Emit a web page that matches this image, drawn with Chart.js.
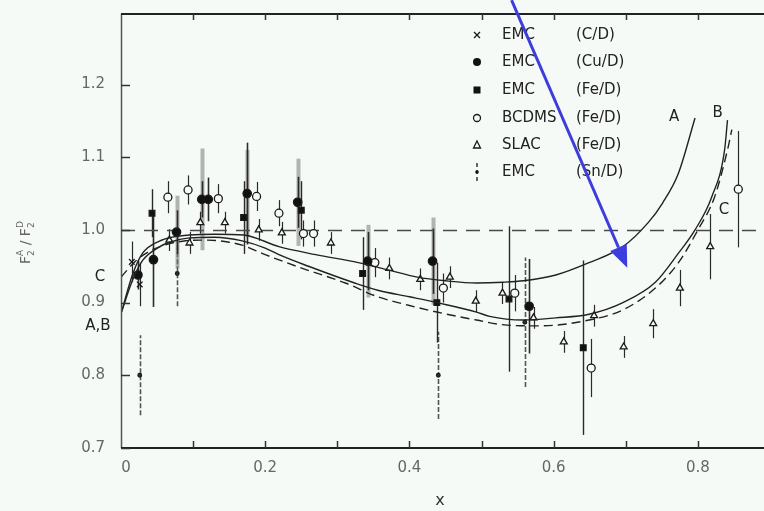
<!DOCTYPE html>
<html>
<head>
<meta charset="utf-8">
<script src="https://cdn.jsdelivr.net/npm/chart.js@4.4.0/dist/chart.umd.min.js"></script>
<style>
  html, body { margin: 0; padding: 0; background: #f6faf7; }
  #wrap { width: 764px; height: 511px; }
</style>
</head>
<body>
<div id="wrap"><canvas id="myChart" width="764" height="511"></canvas></div>
<script>
var bgColor = "#f6faf7";

// axis ticks
var xTickVals = [0, 0.1, 0.2, 0.3, 0.4, 0.5, 0.6, 0.7, 0.8];
var xTickLabels = ["0", "", "0.2", "", "0.4", "", "0.6", "", "0.8"];
var yTickVals = [0.7, 0.8, 0.9, 1.0, 1.1, 1.2];
var yTickLabels = ["0.7", "0.8", "0.9", "1.0", "1.1", "1.2"];

// model curves A, B (solid) and C (dashed)
var curveAX = [0, 0.0165, 0.03, 0.054, 0.071, 0.095, 0.13, 0.17, 0.219, 0.27, 0.329, 0.37, 0.411, 0.45, 0.493, 0.53, 0.558, 0.603, 0.649, 0.696, 0.731, 0.751, 0.773, 0.796];
var curveAY = [0.885, 0.94, 0.968, 0.985, 0.990, 0.993, 0.994, 0.993, 0.977, 0.966, 0.955, 0.945, 0.935, 0.930, 0.927, 0.928, 0.930, 0.938, 0.955, 0.977, 1.010, 1.037, 1.078, 1.154];
var curveBX = [0, 0.0165, 0.03, 0.054, 0.071, 0.095, 0.13, 0.168, 0.2, 0.219, 0.26, 0.324, 0.356, 0.4, 0.438, 0.493, 0.511, 0.558, 0.603, 0.649, 0.696, 0.741, 0.773, 0.796, 0.819, 0.837, 0.841];
var curveBY = [0.885, 0.932, 0.958, 0.977, 0.984, 0.989, 0.990, 0.985, 0.975, 0.966, 0.950, 0.927, 0.917, 0.908, 0.900, 0.887, 0.881, 0.876, 0.879, 0.884, 0.900, 0.928, 0.968, 1.0, 1.045, 1.110, 1.151];
var curveCX = [0, 0.02, 0.04, 0.06, 0.09, 0.12, 0.15, 0.168, 0.2, 0.246, 0.311, 0.356, 0.4, 0.438, 0.493, 0.535, 0.58, 0.649, 0.696, 0.741, 0.773, 0.80, 0.823, 0.841, 0.847];
var curveCY = [0.935, 0.957, 0.971, 0.979, 0.985, 0.986, 0.983, 0.979, 0.966, 0.949, 0.927, 0.908, 0.896, 0.887, 0.876, 0.869, 0.868, 0.876, 0.890, 0.920, 0.955, 1.0, 1.045, 1.110, 1.138];

// EMC (C/D)
var emcCX = [0.015, 0.026];
var emcCY = [0.956, 0.925];
var emcCErr = [0.028, 0.03];
// EMC (Cu/D)
var emcCuX = [0.0235, 0.045, 0.077, 0.112, 0.121, 0.175, 0.245, 0.342, 0.432, 0.566];
var emcCuY = [0.938, 0.959, 0.997, 1.042, 1.042, 1.050, 1.038, 0.957, 0.957, 0.895];
var emcCuErr = [0.02, 0.065, 0.03, 0.025, 0.03, 0.07, 0.035, 0.04, 0.045, 0.065];
var emcCuSys = [0, 0, 0.05, 0.07, 0, 0.06, 0.06, 0.05, 0.06, 0];
// EMC (Fe/D)
var emcFeX = [0.043, 0.17, 0.25, 0.335, 0.438, 0.538, 0.641];
var emcFeY = [1.023, 1.017, 1.027, 0.940, 0.900, 0.905, 0.838];
var emcFeErr = [0.033, 0.05, 0.04, 0.05, 0.055, 0.1, 0.12];
// BCDMS (Fe/D)
var bcdmsX = [0.065, 0.093, 0.135, 0.188, 0.219, 0.253, 0.267, 0.352, 0.447, 0.546, 0.652, 0.856];
var bcdmsY = [1.045, 1.055, 1.043, 1.046, 1.023, 0.995, 0.995, 0.955, 0.920, 0.913, 0.810, 1.056];
var bcdmsErr = [0.022, 0.02, 0.02, 0.02, 0.018, 0.018, 0.018, 0.02, 0.02, 0.025, 0.04, 0.08];
// SLAC (Fe/D)
var slacX = [0.067, 0.095, 0.11, 0.144, 0.191, 0.223, 0.291, 0.372, 0.415, 0.456, 0.492, 0.529, 0.572, 0.614, 0.656, 0.697, 0.738, 0.775, 0.817];
var slacY = [0.986, 0.982, 1.010, 1.010, 1.000, 0.996, 0.982, 0.947, 0.932, 0.935, 0.902, 0.913, 0.879, 0.846, 0.882, 0.839, 0.871, 0.920, 0.977];
var slacErr = [0.015, 0.015, 0.015, 0.015, 0.015, 0.015, 0.015, 0.015, 0.015, 0.015, 0.015, 0.015, 0.015, 0.015, 0.015, 0.015, 0.02, 0.025, 0.045];
// EMC (Sn/D)
var emcSnX = [0.026, 0.078, 0.44, 0.56];
var emcSnY = [0.800, 0.940, 0.800, 0.873];
var emcSnErr = [0.055, 0.045, 0.06, 0.089];

var legendSymbols = ["crossRot", "circleFill", "rectFill", "circleOpen", "triangleOpen", "dotted"];
var legendNames = ["EMC", "EMC", "EMC", "BCDMS", "SLAC", "EMC"];
var legendSources = ["(C/D)", "(Cu/D)", "(Fe/D)", "(Fe/D)", "(Fe/D)", "(Sn/D)"];

function toPoints(xs, ys) {
  var out = [];
  for (var i = 0; i < xs.length; i++) {
    out.push({ x: xs[i], y: ys[i] });
  }
  return out;
}

function curveSet(label, xs, ys, dash) {
  return {
    label: label,
    type: "line",
    data: toPoints(xs, ys),
    showLine: true,
    borderColor: "#222",
    borderWidth: 1.4,
    borderDash: dash,
    pointRadius: 0,
    cubicInterpolationMode: "monotone",
    fill: false,
  };
}

function pointSet(label, xs, ys, errs, style, radius, fillColor, extra) {
  var ds = {
    label: label,
    type: "scatter",
    data: toPoints(xs, ys),
    errs: errs,
    pointStyle: style,
    pointRadius: radius,
    pointBackgroundColor: fillColor,
    pointBorderColor: "#1a1a1a",
    pointBorderWidth: 1.3,
    showLine: false,
  };
  for (var k in extra) ds[k] = extra[k];
  return ds;
}

function strokeBars(c, ds, errs, xs, ys) {
  ds.data.forEach(function (p, i) {
    var e = errs[i];
    if (!e) return;
    var px = Math.round(xs.getPixelForValue(p.x)) + 0.5;
    c.beginPath();
    c.moveTo(px, ys.getPixelForValue(p.y - e));
    c.lineTo(px, ys.getPixelForValue(p.y + e));
    c.stroke();
  });
}

var errorBars = {
  id: "errorBars",
  beforeDatasetsDraw: function (chart) {
    var c = chart.ctx;
    var xs = chart.scales.x;
    var ys = chart.scales.y;
    chart.data.datasets.forEach(function (ds) {
      if (ds.sys) {
        c.save();
        c.strokeStyle = "rgba(120,120,120,0.55)";
        c.lineWidth = 4;
        strokeBars(c, ds, ds.sys, xs, ys);
        c.restore();
      }
      if (!ds.errs) return;
      c.save();
      c.strokeStyle = ds.errColor || "#2a2a2a";
      c.lineWidth = ds.errWidth || 1.2;
      c.setLineDash(ds.errDash || []);
      strokeBars(c, ds, ds.errs, xs, ys);
      c.restore();
    });
  },
};

function drawSymbol(c, kind, x, y) {
  c.save();
  c.strokeStyle = "#1a1a1a";
  c.fillStyle = "#111";
  c.lineWidth = 1.3;
  c.beginPath();
  if (kind == "crossRot") {
    c.moveTo(x - 3, y - 3); c.lineTo(x + 3, y + 3);
    c.moveTo(x + 3, y - 3); c.lineTo(x - 3, y + 3);
    c.stroke();
  } else if (kind == "circleFill") {
    c.arc(x, y, 4, 0, Math.PI * 2); c.fill();
  } else if (kind == "rectFill") {
    c.fillRect(x - 3.5, y - 3.5, 7, 7);
  } else if (kind == "circleOpen") {
    c.arc(x, y, 3.5, 0, Math.PI * 2); c.stroke();
  } else if (kind == "triangleOpen") {
    c.moveTo(x, y - 4); c.lineTo(x + 3.5, y + 3); c.lineTo(x - 3.5, y + 3); c.closePath(); c.stroke();
  } else {
    c.moveTo(x, y - 9); c.lineTo(x, y - 5);
    c.moveTo(x, y - 2); c.lineTo(x, y + 2);
    c.moveTo(x, y + 5); c.lineTo(x, y + 9);
    c.stroke();
    c.beginPath(); c.arc(x, y, 1.8, 0, Math.PI * 2); c.fill();
  }
  c.restore();
}

var framePlugin = {
  id: "frame",
  beforeDraw: function (chart) {
    var c = chart.ctx;
    c.save();
    c.fillStyle = bgColor;
    c.fillRect(0, 0, chart.width, chart.height);
    c.restore();
  },
  beforeDatasetsDraw: function (chart) {
    var c = chart.ctx, a = chart.chartArea, ys = chart.scales.y;
    var y1 = Math.round(ys.getPixelForValue(1.0)) + 0.5;
    c.save();
    c.strokeStyle = "#4a4a4a";
    c.lineWidth = 1.6;
    c.setLineDash([14, 9]);
    c.beginPath();
    c.moveTo(a.left, y1);
    c.lineTo(chart.width, y1);
    c.stroke();
    c.restore();
  },
  afterDraw: function (chart) {
    var c = chart.ctx, a = chart.chartArea;
    var xs = chart.scales.x, ys = chart.scales.y;
    c.save();
    // frame
    c.strokeStyle = "#555";
    c.lineWidth = 1.5;
    c.beginPath();
    c.moveTo(a.left + 0.5, a.top);
    c.lineTo(a.left + 0.5, a.bottom);
    c.stroke();
    c.strokeStyle = "#222";
    c.lineWidth = 2;
    c.beginPath();
    c.moveTo(a.left, a.top);
    c.lineTo(chart.width, a.top);
    c.moveTo(a.left, a.bottom);
    c.lineTo(chart.width, a.bottom);
    c.stroke();
    // tick marks
    c.lineWidth = 1.5;
    c.strokeStyle = "#333";
    c.beginPath();
    yTickVals.forEach(function (v) {
      var py = Math.round(ys.getPixelForValue(v)) + 0.5;
      c.moveTo(a.left, py);
      c.lineTo(a.left + 9, py);
    });
    xTickVals.forEach(function (v) {
      var px = Math.round(xs.getPixelForValue(v)) + 0.5;
      if (v > 0) {
        c.moveTo(px, a.bottom);
        c.lineTo(px, a.bottom - 7);
        c.moveTo(px, a.top);
        c.lineTo(px, a.top + 6);
      }
    });
    c.stroke();

    // tick labels
    c.fillStyle = "#666";
    c.font = "15px 'DejaVu Sans'";
    c.textBaseline = "middle";
    c.textAlign = "right";
    yTickVals.forEach(function (v, i) {
      c.fillText(yTickLabels[i], a.left - 16, ys.getPixelForValue(v));
    });
    c.textAlign = "center";
    xTickVals.forEach(function (v, i) {
      if (xTickLabels[i]) c.fillText(xTickLabels[i], xs.getPixelForValue(v) + (v == 0 ? 5 : 0), a.bottom + 20);
    });

    // y axis title F2A/F2D
    c.save();
    c.translate(30, 264);
    c.rotate(-Math.PI / 2);
    c.fillStyle = "#666";
    c.textAlign = "left";
    c.textBaseline = "alphabetic";
    var parts = [["F", 14, 0], ["2", 9, 4], ["A", 9, -7], [" / ", 14, 0], ["F", 14, 0], ["2", 9, 4], ["D", 9, -7]];
    var cx = 0;
    parts.forEach(function (p, i) {
      c.font = p[1] + "px 'DejaVu Sans'";
      c.fillText(p[0], cx, p[2]);
      if (i == 1 || i == 5) return;
      cx += c.measureText(p[0]).width;
    });
    c.restore();

    // x title
    c.fillStyle = "#333";
    c.font = "16px 'DejaVu Sans'";
    c.textAlign = "center";
    c.textBaseline = "middle";
    c.fillText("x", 440, 501);

    // curve labels
    var curveLabels = [
      ["A", 0.767, 1.155], ["B", 0.8275, 1.161], ["C", 0.836, 1.0275],
      ["C", -0.029, 0.935], ["A,B", -0.032, 0.867],
    ];
    c.fillStyle = "#222";
    c.font = "15px 'DejaVu Sans'";
    curveLabels.forEach(function (l) {
      c.fillText(l[0], xs.getPixelForValue(l[1]), ys.getPixelForValue(l[2]));
    });

    // legend
    c.textAlign = "left";
    var rowY = [35, 62, 90, 118, 145, 172];
    for (var i = 0; i < legendNames.length; i++) {
      drawSymbol(c, legendSymbols[i], 477, rowY[i]);
      c.fillStyle = "#222";
      c.font = "15px 'DejaVu Sans'";
      c.fillText(legendNames[i], 502, rowY[i]);
      c.fillText(legendSources[i], 576, rowY[i]);
    }

    // blue arrow
    var x0 = xs.getPixelForValue(0.5416), y0 = ys.getPixelForValue(1.316);
    var x1 = xs.getPixelForValue(0.702), y1 = ys.getPixelForValue(0.948);
    var ang = Math.atan2(y1 - y0, x1 - x0);
    var hl = 22, hw = 9;
    var bx = x1 - hl * Math.cos(ang), by = y1 - hl * Math.sin(ang);
    c.strokeStyle = "#3d3ddc";
    c.fillStyle = "#3d3ddc";
    c.lineWidth = 3;
    c.beginPath();
    c.moveTo(x0, y0);
    c.lineTo(bx, by);
    c.stroke();
    c.beginPath();
    c.moveTo(x1, y1);
    c.lineTo(bx + hw * Math.sin(ang), by - hw * Math.cos(ang));
    c.lineTo(bx - hw * Math.sin(ang), by + hw * Math.cos(ang));
    c.closePath();
    c.fill();
    c.restore();
  },
};

const ctx = document.getElementById("myChart");
const myChart = new Chart(ctx, {
  type: "scatter",
  data: {
    datasets: [
      curveSet("A", curveAX, curveAY, []),
      curveSet("B", curveBX, curveBY, []),
      curveSet("C", curveCX, curveCY, [9, 5]),
      pointSet("EMC (Sn/D)", emcSnX, emcSnY, emcSnErr, "circle", 1.8, "#333", { errDash: [5, 2], errColor: "#555", errWidth: 1.6 }),
      pointSet("EMC (C/D)", emcCX, emcCY, emcCErr, "crossRot", 4, "#111", {}),
      pointSet("EMC (Cu/D)", emcCuX, emcCuY, emcCuErr, "circle", 4.2, "#111", { errWidth: 1.6, sys: emcCuSys }),
      pointSet("EMC (Fe/D)", emcFeX, emcFeY, emcFeErr, "rect", 4, "#111", { errWidth: 1.4 }),
      pointSet("BCDMS (Fe/D)", bcdmsX, bcdmsY, bcdmsErr, "circle", 4, bgColor, {}),
      pointSet("SLAC (Fe/D)", slacX, slacY, slacErr, "triangle", 4, bgColor, {}),
    ],
  },
  options: {
    responsive: false,
    animation: false,
    layout: { padding: { top: 14, right: 0, left: 0, bottom: 0 } },
    plugins: {
      legend: { display: false },
      tooltip: { enabled: false },
    },
    scales: {
      x: {
        type: "linear",
        min: 0,
        max: 0.884,
        grid: { display: false, drawTicks: false },
        border: { display: false },
        afterFit: function (scale) { scale.height = 63; },
        ticks: { display: false },
      },
      y: {
        type: "linear",
        min: 0.7,
        max: 1.297,
        grid: { display: false, drawTicks: false },
        border: { display: false },
        afterFit: function (scale) { scale.width = 121; },
        ticks: { display: false },
      },
    },
  },
  plugins: [errorBars, framePlugin],
});
</script>
</body>
</html>
